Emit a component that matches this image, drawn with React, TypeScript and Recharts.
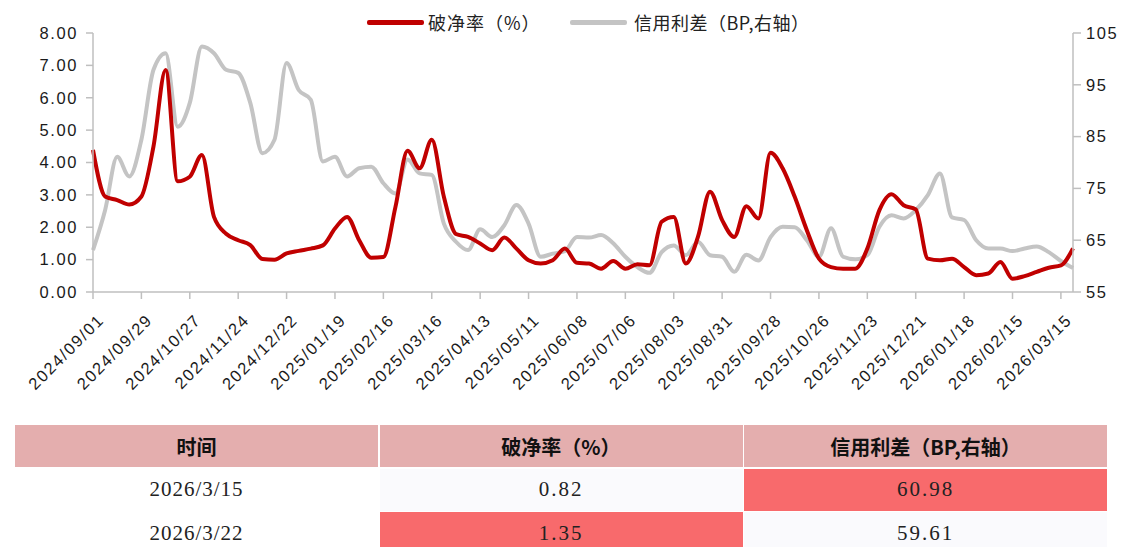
import React from 'react';
import { LineChart, Line, XAxis, YAxis, Legend } from 'recharts';

const dates = [
  '2024/09/01','2024/09/08','2024/09/15','2024/09/22','2024/09/29','2024/10/06','2024/10/13','2024/10/20','2024/10/27',
  '2024/11/03','2024/11/10','2024/11/17','2024/11/24','2024/12/01','2024/12/08','2024/12/15','2024/12/22','2024/12/29',
  '2025/01/05','2025/01/12','2025/01/19','2025/01/26','2025/02/02','2025/02/09','2025/02/16','2025/02/23','2025/03/02',
  '2025/03/09','2025/03/16','2025/03/23','2025/03/30','2025/04/06','2025/04/13','2025/04/20','2025/04/27','2025/05/04',
  '2025/05/11','2025/05/18','2025/05/25','2025/06/01','2025/06/08','2025/06/15','2025/06/22','2025/06/29','2025/07/06',
  '2025/07/13','2025/07/20','2025/07/27','2025/08/03','2025/08/10','2025/08/17','2025/08/24','2025/08/31','2025/09/07',
  '2025/09/14','2025/09/21','2025/09/28','2025/10/05','2025/10/12','2025/10/19','2025/10/26','2025/11/02','2025/11/09',
  '2025/11/16','2025/11/23','2025/11/30','2025/12/07','2025/12/14','2025/12/21','2025/12/28','2026/01/04','2026/01/11',
  '2026/01/18','2026/01/25','2026/02/01','2026/02/08','2026/02/15','2026/02/22','2026/03/01','2026/03/08','2026/03/15',
  '2026/03/22',
];

const breakNetRatio = [
  4.39, 2.95, 2.84, 2.70, 2.95, 4.50, 6.86, 3.42, 3.56, 4.23,
  2.32, 1.80, 1.60, 1.45, 1.02, 1.00, 1.19, 1.27, 1.34, 1.44,
  1.96, 2.32, 1.60, 1.06, 1.08, 2.63, 4.36, 3.82, 4.70, 2.94,
  1.79, 1.70, 1.50, 1.29, 1.68, 1.34, 0.98, 0.88, 0.98, 1.34,
  0.90, 0.88, 0.72, 0.96, 0.72, 0.86, 0.83, 2.17, 2.32, 0.88,
  1.70, 3.10, 2.22, 1.70, 2.65, 2.27, 4.30, 3.82, 2.94, 1.91,
  1.03, 0.77, 0.72, 0.72, 1.34, 2.53, 3.02, 2.68, 2.55, 1.03,
  0.98, 1.03, 0.77, 0.52, 0.57, 0.93, 0.41, 0.49, 0.62, 0.75,
  0.82, 1.35,
];

const creditSpread = [
  63.1, 70.8, 81.1, 77.3, 84.4, 97.9, 101.1, 86.9, 91.5, 102.4,
  101.1, 97.9, 97.3, 91.5, 81.8, 84.4, 99.2, 94.0, 92.1, 80.2,
  81.1, 77.3, 78.9, 79.2, 76.0, 74.0, 80.6, 77.9, 77.6, 68.2,
  64.7, 63.1, 67.1, 65.6, 67.9, 71.8, 68.2, 61.8, 62.4, 62.9,
  65.6, 65.5, 66.0, 64.4, 61.8, 59.8, 58.7, 62.7, 64.0, 62.1,
  64.7, 62.1, 61.8, 58.9, 62.2, 61.1, 65.6, 67.6, 67.5, 65.0,
  61.8, 67.3, 61.8, 61.3, 62.1, 67.6, 69.8, 69.2, 70.8, 73.7,
  77.9, 69.4, 68.9, 65.0, 63.4, 63.4, 62.9, 63.4, 63.8, 62.7,
  60.98, 59.61,
];

const leftTicks = [0, 1, 2, 3, 4, 5, 6, 7, 8];
const rightTicks = [55, 65, 75, 85, 95, 105];

const seriesNames = ['破净率（%）', '信用利差（BP,右轴）'];
const seriesColors = ['#C00000', '#C4C4C4'];

const tableHeaders = ['时间', '破净率（%）', '信用利差（BP,右轴）'];
const tableDates = ['2026/3/15', '2026/3/22'];
const tableRatio = [0.82, 1.35];
const tableSpread = [60.98, 59.61];

const data = dates.map((d, i) => ({ date: d, ratio: breakNetRatio[i], spread: creditSpread[i] }));

const AXIS = '#BFBFBF';
const TICK_FONT = { fontFamily: '"Liberation Sans", Arial, sans-serif', fontSize: 16.5, fill: '#1a1a1a', letterSpacing: 1.6 };

const XTick = (props: any) => {
  const { x, y, payload } = props;
  return (
    <g transform={`translate(${x + 8},${y + 16}) rotate(-45)`}>
      <text x={0} y={0} dy="0.35em" textAnchor="end" style={TICK_FONT as any}>{payload.value}</text>
    </g>
  );
};

const LegendContent = () => (
  <div style={{ position: 'relative', width: 1127, height: 21, fontFamily: '"Noto Sans CJK SC", sans-serif', fontSize: 18, lineHeight: '21px', color: '#222' }}>
    <div style={{ position: 'absolute', left: 367, top: 8, width: 57, height: 4.5, background: seriesColors[0], borderRadius: 2 }} />
    <span style={{ position: 'absolute', left: 428, top: 0, whiteSpace: 'nowrap', letterSpacing: 1 }}>{seriesNames[0]}</span>
    <div style={{ position: 'absolute', left: 570, top: 8, width: 57, height: 4.5, background: seriesColors[1], borderRadius: 2 }} />
    <span style={{ position: 'absolute', left: 634, top: 0, whiteSpace: 'nowrap', letterSpacing: 0.5 }}>{seriesNames[1]}</span>
  </div>
);

const maxRatio = Math.max(...tableRatio);
const maxSpread = Math.max(...tableSpread);

const cellBase: React.CSSProperties = {
  display: 'flex', alignItems: 'center', justifyContent: 'center', height: 42,
};

export default function App() {
  return (
    <div style={{ position: 'absolute', left: 0, top: 0, width: 1127, height: 547, background: '#fff', overflow: 'hidden' }}>
      <LineChart width={1127} height={420} data={data} margin={{ top: 12, right: 0, bottom: 0, left: 0 }}>
        <Legend verticalAlign="top" align="left" content={<LegendContent />} wrapperStyle={{ left: 0, top: 12, width: 1127, height: 21 }} />
        <XAxis
          dataKey="date"
          interval={3}
          tickSize={7}
          tickMargin={2}
          height={128}
          axisLine={{ stroke: AXIS, strokeWidth: 1.5 }}
          tickLine={{ stroke: AXIS, strokeWidth: 1.5 }}
          tick={<XTick />}
        />
        <YAxis
          yAxisId="left"
          width={93}
          domain={[0, 8]}
          ticks={leftTicks}
          tickFormatter={(v: number) => v.toFixed(2)}
          tickSize={7}
          tickMargin={8}
          axisLine={{ stroke: AXIS, strokeWidth: 1.5 }}
          tickLine={{ stroke: AXIS, strokeWidth: 1.5 }}
          tick={TICK_FONT}
          allowDataOverflow
        />
        <YAxis
          yAxisId="right"
          orientation="right"
          width={54}
          domain={[55, 105]}
          ticks={rightTicks}
          tickSize={8}
          tickMargin={5}
          axisLine={{ stroke: AXIS, strokeWidth: 1.5 }}
          tickLine={{ stroke: AXIS, strokeWidth: 1.5 }}
          tick={TICK_FONT}
          allowDataOverflow
        />
        <Line yAxisId="right" dataKey="spread" name={seriesNames[1]} type="monotone" stroke={seriesColors[1]} strokeWidth={4} dot={false} activeDot={false} isAnimationActive={false} />
        <Line yAxisId="left" dataKey="ratio" name={seriesNames[0]} type="monotone" stroke={seriesColors[0]} strokeWidth={4} dot={false} activeDot={false} isAnimationActive={false} />
      </LineChart>
      <div style={{
        position: 'absolute', left: 15, top: 425, display: 'grid',
        gridTemplateColumns: '363px 363px 363px', gridAutoRows: '42px', columnGap: 1.5, rowGap: 1.5,
      }}>
        {tableHeaders.map((h) => (
          <div key={h} style={{ ...cellBase, background: '#E4AEAE', fontFamily: '"Noto Sans CJK SC", sans-serif', fontWeight: 700, fontSize: 20, color: '#111' }}>{h}</div>
        ))}
        {tableDates.map((d, i) => (
          <React.Fragment key={d}>
            <div style={{ ...cellBase, background: '#FFFFFF', fontFamily: '"Liberation Serif", serif', fontSize: 21, letterSpacing: 1, color: '#222' }}>{d}</div>
            <div style={{ ...cellBase, background: tableRatio[i] === maxRatio ? '#F86A6C' : '#FAFAFD', fontFamily: '"Liberation Serif", serif', fontSize: 21, letterSpacing: 2, color: '#222' }}>{tableRatio[i].toFixed(2)}</div>
            <div style={{ ...cellBase, background: tableSpread[i] === maxSpread ? '#F86A6C' : '#FAFAFD', fontFamily: '"Liberation Serif", serif', fontSize: 21, letterSpacing: 2, color: '#222' }}>{tableSpread[i].toFixed(2)}</div>
          </React.Fragment>
        ))}
      </div>
    </div>
  );
}
